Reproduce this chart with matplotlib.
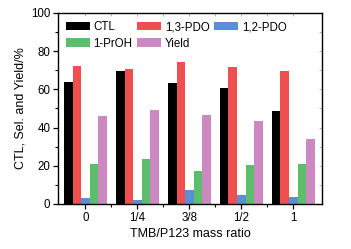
import matplotlib
matplotlib.use("Agg")
import matplotlib.pyplot as plt
import numpy as np
from matplotlib.ticker import MultipleLocator, FixedLocator

categories = ["0", "1/4", "3/8", "1/2", "1"]
series_names = ["CTL", "1,3-PDO", "1,2-PDO", "1-PrOH", "Yield"]
ctl = [63.9, 69.5, 63.2, 60.9, 48.6]
pdo13 = [72.1, 70.9, 74.3, 71.5, 69.6]
pdo12 = [3.1, 2.1, 7.2, 4.7, 3.7]
proh = [21.1, 23.6, 17.1, 20.5, 21.1]
yield_ = [46.3, 49.3, 46.7, 43.5, 33.9]
colors = ["#000000", "#EF4F4F", "#5B8FD4", "#5CBD6A", "#CC88C0"]

plt.rcParams['font.family'] = ['Liberation Sans', 'DejaVu Sans']

fig = plt.figure(figsize=(3.51, 2.49), dpi=100)
ax = fig.add_axes([0.165, 0.181, 0.752, 0.767])

x = np.arange(len(categories))
w = 0.165
data = [ctl, pdo13, pdo12, proh, yield_]
handles = []
for i, (name, vals, c) in enumerate(zip(series_names, data, colors)):
    h = ax.bar(x + (i - 2) * w, vals, width=w, color=c, label=name, linewidth=0)
    handles.append(h)

ax.set_xlim(-0.53, 4.55)
ax.set_ylim(0, 100)
ax.set_xticks(x)
ax.set_xticklabels(categories)
ax.xaxis.set_minor_locator(FixedLocator(x[:-1] + 0.5))
ax.yaxis.set_major_locator(MultipleLocator(20))
ax.yaxis.set_minor_locator(MultipleLocator(10))
ax.tick_params(axis='both', which='major', direction='out', length=3.5, width=0.9,
               labelsize=8.3, pad=2)
ax.tick_params(axis='both', which='minor', direction='out', length=2, width=0.8)
for s in ax.spines.values():
    s.set_linewidth(1.0)

# inward ticks on top/right
axt = ax.secondary_xaxis('top')
axt.set_xticks(list(x) + list(x[:-1] + 0.5))
axt.tick_params(direction='in', length=2, width=0.5, colors='#999999', labeltop=False)
axt.spines['top'].set_visible(False)
axr = ax.secondary_yaxis('right')
axr.set_yticks(np.arange(0, 101, 10))
axr.tick_params(direction='in', length=2, width=0.5, colors='#999999', labelright=False)
axr.spines['right'].set_visible(False)

ax.set_xlabel("TMB/P123 mass ratio", fontsize=9, labelpad=3)
ax.set_ylabel("CTL, Sel. and Yield/%", fontsize=9, labelpad=3)

order = [0, 3, 1, 4, 2]
ax.legend([handles[i] for i in order], [series_names[i] for i in order],
          ncol=3, loc='upper left', frameon=False, fontsize=8.3,
          handlelength=2.1, handleheight=0.75, handletextpad=0.3,
          columnspacing=0.4, labelspacing=0.4, borderaxespad=0.3,
          bbox_to_anchor=(0.0, 1.0))

fig.savefig("out.png", dpi=100)
